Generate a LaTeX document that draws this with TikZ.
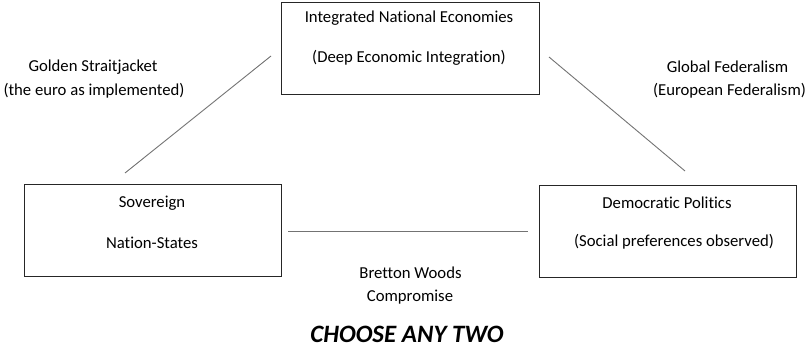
\documentclass[tikz,border=0pt]{standalone}
\usepackage{fontspec}
\setmainfont{Carlito}[Ligatures=NoCommon]
\begin{document}
\begin{tikzpicture}[x=1pt,y=-1pt,
  box/.style={draw=black!85,line width=0.9pt,minimum width=#1,minimum height=92pt,inner sep=0pt},
  link/.style={draw=black!55,line width=0.9pt},
  lbl/.style={font=\fontsize{16.7}{19}\selectfont,align=center,inner sep=0pt}]
\useasboundingbox (0,0) rectangle (808,347);
\node[box=258pt] (top) at (410,48) {};
\node[lbl] at (409,18) {Integrated National Economies};
\node[lbl] at (409,58) {(Deep Economic Integration)};
\node[box=257pt] (left) at (152.5,230.5) {};
\node[lbl] at (152,203) {Sovereign};
\node[lbl] at (152,243) {Nation-States};
\node[box=257pt] (right) at (667.5,231) {};
\node[lbl] at (667,203) {Democratic Politics};
\node[lbl] at (674,242) {(Social preferences observed)};
\coordinate (l1) at (271,56);
\coordinate (l2) at (125,173);
\coordinate (r1) at (549,57);
\coordinate (r2) at (685,171);
\coordinate (b1) at (288,231);
\coordinate (b2) at (528,231);
\draw[link] (l1) -- (l2);
\draw[link] (r1) -- (r2);
\draw[link] (b1) -- (b2);
\node[lbl] (gs) at (93,67) {Golden Straitjacket};
\node[lbl] (gs2) at (94,91) {(the euro as implemented)};
\node[lbl] (gf) at (727.5,67) {Global Federalism};
\node[lbl] (gf2) at (729.5,91) {(European Federalism)};
\node[lbl] (bw) at (410.5,273) {Bretton Woods};
\node[lbl] (bw2) at (410,297) {Compromise};
\node[inner sep=0pt,font=\fontsize{25}{28}\selectfont\bfseries\itshape] (cat) at (407,334) {CHOOSE ANY TWO};
\end{tikzpicture}
\end{document}
